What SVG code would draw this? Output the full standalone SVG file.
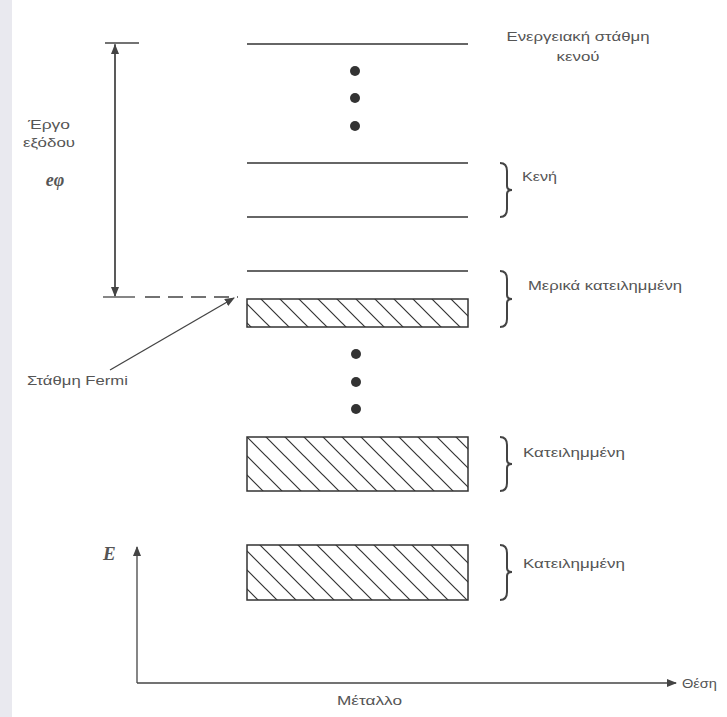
<svg xmlns="http://www.w3.org/2000/svg" width="727" height="717" viewBox="0 0 727 717">
<defs>
<style>
.lvl{stroke:#333;stroke-width:1.6;fill:none}
.box{stroke:#333;stroke-width:1.5;fill:url(#hatch)}
.ln{stroke:#444;stroke-width:1.3;fill:none}
.br{stroke:#444;stroke-width:2;fill:none}
.t{font-family:"Liberation Sans",Arial,sans-serif;font-size:13px;fill:#555}
.dot{fill:#333}
</style>
<pattern id="hatch" patternUnits="userSpaceOnUse" width="19" height="19">
<path d="M-1,-1 L20,20 M-10,9 L1,20 M9,-10 L20,1" stroke="#333" stroke-width="1.2"/>
</pattern>
<marker id="ah" markerWidth="10" markerHeight="8" refX="9" refY="4" orient="auto" markerUnits="userSpaceOnUse">
<path d="M0,0 L10,4 L0,8 Z" fill="#444"/>
</marker>
</defs>
<rect width="727" height="717" fill="#fff"/>
<rect width="12" height="717" fill="#e9e9ef"/>

<g id="connectors">
<line class="ln" x1="115" y1="296" x2="115" y2="45" marker-end="url(#ah)"/>
<line class="ln" x1="115" y1="44" x2="115" y2="296" marker-end="url(#ah)"/>
<line class="ln" x1="105" y1="43" x2="139" y2="43"/>
<line class="ln" x1="103" y1="297" x2="135" y2="297"/>
<line class="ln" x1="145" y1="297" x2="238" y2="297" stroke-dasharray="15,8"/>
<line class="ln" x1="110" y1="370" x2="234" y2="298" marker-end="url(#ah)"/>
<line class="ln" x1="137" y1="683" x2="137" y2="547" marker-end="url(#ah)"/>
<line class="ln" x1="137" y1="683" x2="676" y2="683" marker-end="url(#ah)"/>
</g>

<g id="vacuum-level">
<line class="lvl" x1="247" y1="44" x2="468" y2="44"/>
<text class="t" x="578" y="41" text-anchor="middle" textLength="143" lengthAdjust="spacingAndGlyphs">Ενεργειακή στάθμη</text>
<text class="t" x="578" y="61" text-anchor="middle" textLength="43" lengthAdjust="spacingAndGlyphs">κενού</text>
</g>
<g id="dots-top">
<circle class="dot" cx="355" cy="71" r="5"/>
<circle class="dot" cx="355" cy="98" r="5"/>
<circle class="dot" cx="355" cy="126" r="5"/>
</g>
<g id="empty-bands">
<line class="lvl" x1="247" y1="163" x2="468" y2="163"/>
<line class="lvl" x1="247" y1="217" x2="468" y2="217"/>
<path class="br" d="M500,163 Q507,163 507,171 L507,186 Q507,190 512,190 Q507,190 507,194 L507,209 Q507,217 500,217"/>
<text class="t" x="522" y="181" textLength="35" lengthAdjust="spacingAndGlyphs">Κενή</text>
</g>
<g id="partial-band">
<line class="lvl" x1="247" y1="271" x2="468" y2="271"/>
<rect class="box" x="247" y="299" width="221" height="28"/>
<path class="br" d="M500,271 Q507,271 507,279 L507,295 Q507,299 512,299 Q507,299 507,303 L507,319 Q507,327 500,327"/>
<text class="t" x="528" y="290" textLength="154" lengthAdjust="spacingAndGlyphs">Μερικά κατειλημμένη</text>
</g>
<g id="dots-mid">
<circle class="dot" cx="356" cy="354" r="5"/>
<circle class="dot" cx="356" cy="382" r="5"/>
<circle class="dot" cx="356" cy="409" r="5"/>
</g>
<g id="occupied-band-1">
<rect class="box" x="247" y="437" width="221" height="54"/>
<path class="br" d="M500,437 Q507,437 507,445 L507,460 Q507,464 512,464 Q507,464 507,468 L507,483 Q507,491 500,491"/>
<text class="t" x="523" y="457" textLength="102" lengthAdjust="spacingAndGlyphs">Κατειλημμένη</text>
</g>
<g id="occupied-band-2">
<rect class="box" x="247" y="545" width="221" height="55"/>
<path class="br" d="M500,545 Q507,545 507,553 L507,568 Q507,572 512,572 Q507,572 507,576 L507,592 Q507,600 500,600"/>
<text class="t" x="523" y="568" textLength="102" lengthAdjust="spacingAndGlyphs">Κατειλημμένη</text>
</g>
<g id="work-function">
<text class="t" x="49" y="129" text-anchor="middle" textLength="42" lengthAdjust="spacingAndGlyphs">Έργο</text>
<text class="t" x="49" y="147" text-anchor="middle" textLength="52" lengthAdjust="spacingAndGlyphs">εξόδου</text>
<text x="55" y="186" text-anchor="middle" style="font-family:'Liberation Serif',serif;font-size:18px;font-style:italic;font-weight:bold;fill:#555">eφ</text>
</g>
<g id="fermi-label">
<text class="t" x="27" y="385" textLength="101" lengthAdjust="spacingAndGlyphs">Στάθμη Fermi</text>
</g>
<g id="axes-labels">
<text x="103" y="560" style="font-family:'Liberation Serif',serif;font-size:19px;font-style:italic;font-weight:bold;fill:#555">E</text>
<text class="t" x="682" y="688" textLength="35" lengthAdjust="spacingAndGlyphs">Θέση</text>
<text class="t" x="337" y="705" textLength="65" lengthAdjust="spacingAndGlyphs">Μέταλλο</text>
</g>
</svg>
